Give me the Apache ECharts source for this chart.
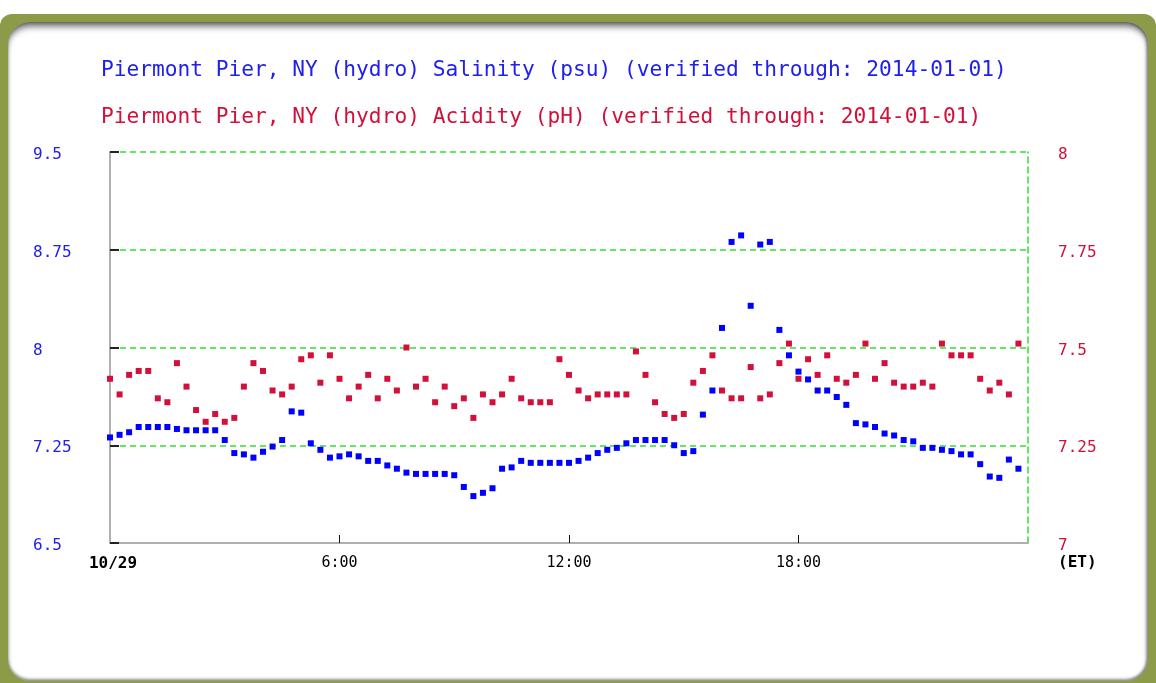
<!DOCTYPE html>
<html>
<head>
<meta charset="utf-8">
<script src="https://cdn.jsdelivr.net/npm/echarts@6/dist/echarts.min.js"></script>
<style>
  html, body { margin: 0; padding: 0; width: 1156px; height: 683px; overflow: hidden; background: #ffffff; }
  #frame { position: absolute; left: 0; top: 14px; width: 1156px; height: 720px; background: #8b9b48; border-radius: 12px 12px 0 0; }
  #panel { position: absolute; left: 8px; top: 22px; width: 1140px; height: 659px; background: #ffffff; border-radius: 22px;
           box-shadow: inset 0 7px 7px -3px rgba(40,40,40,0.75), inset -2px 0 3px rgba(60,60,60,0.4), inset 0 -2px 3px rgba(60,60,60,0.5); }
  #chart { position: absolute; left: 0; top: 0; width: 1156px; height: 683px; }
</style>
</head>
<body>
<div id="frame"></div>
<div id="panel"></div>
<div id="chart"></div>
<script>
// 15-minute readings from 0:00 to 23:45 on 10/29
const hours = Array.from({length: 96}, (_, i) => i * 0.25);
const salinity = [
  7.31, 7.33, 7.35, 7.39, 7.39, 7.39, 7.39, 7.375, 7.365, 7.365, 7.365, 7.365,
  7.29, 7.19, 7.18, 7.155, 7.20, 7.24, 7.29, 7.51, 7.50, 7.265, 7.215, 7.155,
  7.165, 7.18, 7.165, 7.13, 7.13, 7.095, 7.07, 7.04, 7.03, 7.03, 7.03, 7.03,
  7.02, 6.93, 6.86, 6.885, 6.92, 7.07, 7.08, 7.13, 7.115, 7.115, 7.115, 7.115,
  7.115, 7.13, 7.155, 7.19, 7.215, 7.23, 7.265, 7.29, 7.29, 7.29, 7.29, 7.25,
  7.19, 7.205, 7.485, 7.67, 8.15, 8.81, 8.86, 8.32, 8.79, 8.81, 8.135, 7.94,
  7.815, 7.755, 7.67, 7.67, 7.62, 7.56, 7.42, 7.41, 7.39, 7.34, 7.325, 7.29,
  7.28, 7.23, 7.23, 7.215, 7.205, 7.18, 7.18, 7.105, 7.01, 7.00, 7.14, 7.07
];
const acidity = [
  7.42, 7.38, 7.43, 7.44, 7.44, 7.37, 7.36, 7.46, 7.40, 7.34, 7.31, 7.33,
  7.31, 7.32, 7.40, 7.46, 7.44, 7.39, 7.38, 7.40, 7.47, 7.48, 7.41, 7.48,
  7.42, 7.37, 7.40, 7.43, 7.37, 7.42, 7.39, 7.50, 7.40, 7.42, 7.36, 7.40,
  7.35, 7.37, 7.32, 7.38, 7.36, 7.38, 7.42, 7.37, 7.36, 7.36, 7.36, 7.47,
  7.43, 7.39, 7.37, 7.38, 7.38, 7.38, 7.38, 7.49, 7.43, 7.36, 7.33, 7.32,
  7.33, 7.41, 7.44, 7.48, 7.39, 7.37, 7.37, 7.45, 7.37, 7.38, 7.46, 7.51,
  7.42, 7.47, 7.43, 7.48, 7.42, 7.41, 7.43, 7.51, 7.42, 7.46, 7.41, 7.40,
  7.40, 7.41, 7.40, 7.51, 7.48, 7.48, 7.48, 7.42, 7.39, 7.41, 7.38, 7.51
];
const xTickValues = [0, 6, 12, 18, 24];
const xTickLabels = ['10/29', '6:00', '12:00', '18:00', ''];
const titleSalinity = 'Piermont Pier, NY (hydro) Salinity (psu) (verified through: 2014-01-01)';
const titleAcidity = 'Piermont Pier, NY (hydro) Acidity (pH) (verified through: 2014-01-01)';

const MONO = '"DejaVu Sans Mono", "Liberation Mono", monospace';
const BLUE = '#0000ff';
const RED = '#d2103a';
const GREEN = '#33e033';

const chart = echarts.init(document.getElementById('chart'), null, {renderer: 'canvas'});
chart.setOption({
  backgroundColor: 'transparent',
  animation: false,
  title: [
    { text: titleSalinity, left: 96, top: 55, textStyle: { color: '#2020ee', fontFamily: MONO, fontSize: 21.2, fontWeight: 'normal' } },
    { text: titleAcidity, left: 96, top: 102, textStyle: { color: RED, fontFamily: MONO, fontSize: 21.2, fontWeight: 'normal' } }
  ],
  graphic: [
    { type: 'text', left: 1058, top: 555, style: { text: '(ET)', font: 'bold 16px ' + MONO, fill: '#000' } }
  ],
  grid: { left: 110, right: 128, top: 152, bottom: 140, containLabel: false },
  xAxis: {
    type: 'value', min: 0, max: 24, interval: 6,
    axisLine: { show: true, lineStyle: { color: '#b0b0b0', width: 2 } },
    axisTick: { show: true, inside: true, length: 8, customValues: [6, 12, 18], lineStyle: { color: '#111', width: 1 } },
    splitLine: { show: false },
    axisLabel: {
      margin: 13, fontFamily: MONO, fontSize: 15, color: '#000',
      customValues: xTickValues,
      formatter: function (v) {
        const k = xTickValues.indexOf(v);
        const s = k >= 0 ? xTickLabels[k] : '';
        return k === 0 ? '{b|' + s + '}' : s;
      },
      rich: { b: { fontWeight: 'bold', fontFamily: MONO, fontSize: 16, color: '#000', padding: [0, 0, 0, 6] } }
    }
  },
  yAxis: [
    {
      type: 'value', min: 6.5, max: 9.5, interval: 0.75, position: 'left',
      axisLine: { show: true, lineStyle: { color: '#b0b0b0', width: 2 } },
      axisTick: { show: true, inside: true, length: 9, lineStyle: { color: '#222', width: 2 } },
      splitLine: { show: true, lineStyle: { color: GREEN, type: [6, 4], width: 1.5 } },
      axisLabel: {
        align: 'left', margin: 77, fontFamily: MONO, fontSize: 16, color: '#2020ee',
        formatter: function (v) { return '{a|' + v + '}'; },
        rich: { a: { fontFamily: MONO, fontSize: 16, color: '#2020ee', padding: [6, 0, 0, 0] } }
      }
    },
    {
      type: 'value', min: 7, max: 8, interval: 0.25, position: 'right',
      axisLine: { show: true, lineStyle: { color: GREEN, type: [6, 4], width: 1.5 } },
      axisTick: { show: false },
      splitLine: { show: false },
      axisLabel: {
        align: 'left', margin: 30, fontFamily: MONO, fontSize: 16, color: RED,
        formatter: function (v) { return '{a|' + v + '}'; },
        rich: { a: { fontFamily: MONO, fontSize: 16, color: RED, padding: [6, 0, 0, 0] } }
      }
    }
  ],
  series: [
    {
      name: 'Salinity', type: 'scatter', yAxisIndex: 0, symbol: 'rect', symbolSize: 6,
      itemStyle: { color: BLUE, opacity: 1 },
      data: hours.map((h, i) => [h, salinity[i]])
    },
    {
      name: 'Acidity', type: 'scatter', yAxisIndex: 1, symbol: 'rect', symbolSize: 6,
      itemStyle: { color: RED, opacity: 1 },
      data: hours.map((h, i) => [h, acidity[i]])
    }
  ]
});
</script>
</body>
</html>
